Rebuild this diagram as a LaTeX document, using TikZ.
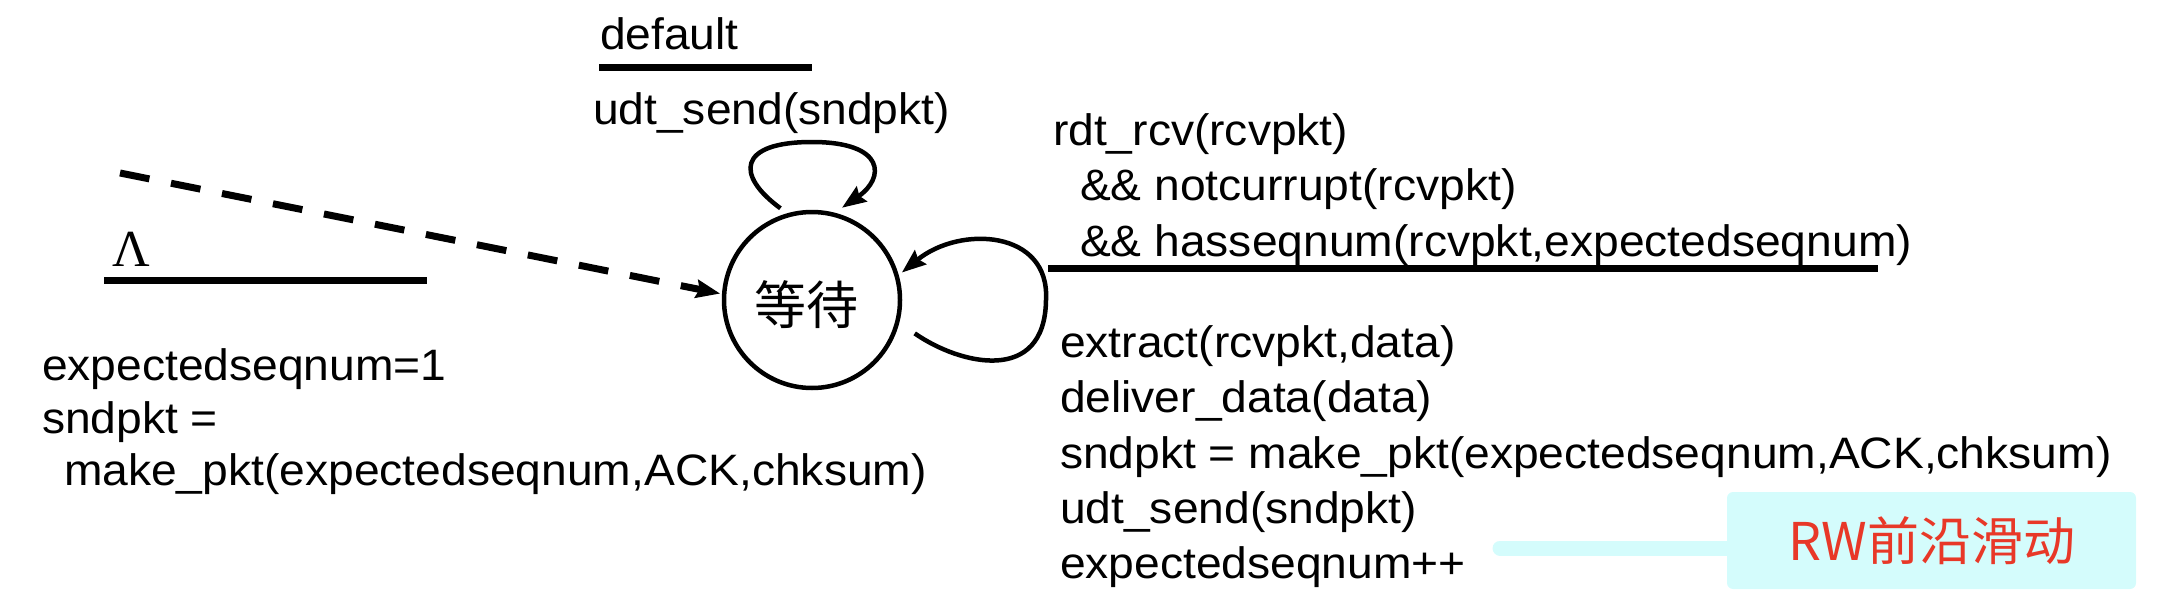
\documentclass[tikz,border=0pt]{standalone}
\usepackage{fontspec}
\setmainfont{Liberation Sans}[FakeStretch=1.05]
\newfontfamily\cjk{Noto Sans CJK SC}
\newfontfamily\serifL{Liberation Serif}
\usetikzlibrary{arrows.meta,calc}
\definecolor{rwfill}{RGB}{212,252,252}
\definecolor{rwred}{RGB}{232,56,40}
\tikzset{
  lbl/.style={anchor=base west, inner sep=0pt, outer sep=0pt, font=\fontsize{44}{52}\selectfont},
  bar/.style={line width=7pt},
  tipend/.style={-{Stealth[length=24pt,width=18pt,inset=3pt]}},
  loopline/.style={line width=4.5pt, tipend},
}
\begin{document}
\begin{tikzpicture}[x=1pt,y=1pt]
\useasboundingbox (0,0) rectangle (2158,-610);
% state
\node[circle, draw, line width=4.5pt, minimum size=176pt, inner sep=0pt] (s) at (812,-300) {};
\node[font=\cjk\fontsize{52}{60}\selectfont, inner sep=0pt] (w) at (806,-305) {等待};
% top self loop
\coordinate (l1s) at ($(s.center)+(109:97)$);
\coordinate (l1e) at ($(s.center)+(72:97)$);
\draw[loopline] (l1s) .. controls (735,-175) and (738,-142) .. (812,-142)
  .. controls (886,-142) and (885,-178) .. (l1e);
\node[lbl] (def) at (600,-50) {default};
\draw[bar] (599,-68) -- (812,-68);
\node[lbl] (act1) at (593,-124) {udt\_send(sndpkt)};
% right self loop
\coordinate (l2s) at ($(s.center)+(-18:108)$);
\coordinate (l2e) at ($(s.center)+(17:94)$);
\draw[loopline] (l2s) .. controls (960,-365) and (1045,-385) .. (1046,-300)
  .. controls (1050,-230) and (960,-225) .. (l2e);
\node[lbl] (c1) at (1053,-145) {rdt\_rcv(rcvpkt)};
\node[lbl] (c2) at (1080,-200) {\&\& notcurrupt(rcvpkt)};
\node[lbl] (c3) at (1080,-256) {\&\& hasseqnum(rcvpkt,expectedseqnum)};
\draw[bar] (1048,-268) -- (1878,-268);
\node[lbl] (a1) at (1060,-357) {extract(rcvpkt,data)};
\node[lbl] (a2) at (1060,-412) {deliver\_data(data)};
\node[lbl] (a3) at (1060,-468) {sndpkt = make\_pkt(expectedseqnum,ACK,chksum)};
\node[lbl] (a4) at (1060,-523) {udt\_send(sndpkt)};
\node[lbl] (a5) at (1060,-578) {expectedseqnum++};
% initial transition
\coordinate (d0) at (120,-173);
\coordinate (d1) at ($(s.center)+(176:92)$);
\draw[line width=7pt, dash pattern=on 30pt off 22pt, tipend] (d0) -- (d1);
\node[anchor=base west, inner sep=0pt, font=\serifL\fontsize{52}{60}\selectfont] (lam) at (112,-266) {Λ};
\draw[bar] (104,-280) -- (427,-280);
\node[lbl] (i1) at (42,-380) {expectedseqnum=1};
\node[lbl] (i2) at (42,-433) {sndpkt =};
\node[lbl] (i3) at (64,-485) {make\_pkt(expectedseqnum,ACK,chksum)};
% RW note
\node[fill=rwfill, rounded corners=6pt, minimum width=409pt, minimum height=97pt, inner sep=0pt,
  text=rwred, font=\cjk\fontsize{52}{60}\selectfont] (rw) at (1931.5,-540.5) {RW前沿滑动};
\coordinate (rwtip) at (1500,-548);
\draw[rwfill, line width=15pt, line cap=round] ([yshift=-7.5pt]rw.west) -- (rwtip);
\end{tikzpicture}
\end{document}
